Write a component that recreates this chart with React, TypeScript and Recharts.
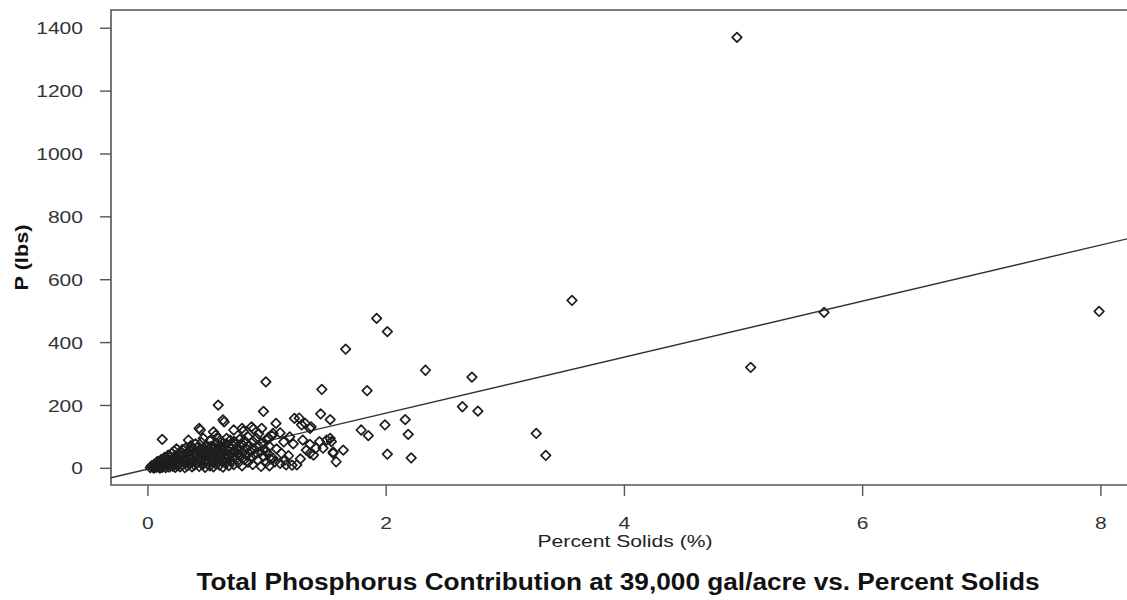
import React from 'react';
import { ScatterChart, Scatter, XAxis, YAxis, ReferenceArea, ReferenceLine, Label } from 'recharts';

// dense cloud of low-solids samples
const clusterPts: [number, number][] = [
  [0.02, 2], [0.03, 8], [0.04, 4], [0.05, 12], [0.05, 1], [0.06, 6], [0.07, 15], [0.07, 3],
  [0.08, 10], [0.08, 22], [0.09, 5], [0.10, 18], [0.10, 1], [0.11, 9], [0.11, 28], [0.12, 14],
  [0.12, 3], [0.13, 24], [0.13, 7], [0.14, 35], [0.14, 12], [0.15, 19], [0.15, 2], [0.16, 30],
  [0.16, 8], [0.17, 42], [0.17, 15], [0.18, 25], [0.18, 4], [0.19, 36], [0.19, 11], [0.20, 48],
  [0.20, 20], [0.21, 6], [0.21, 31], [0.22, 14], [0.22, 55], [0.23, 40], [0.23, 3], [0.24, 22],
  [0.24, 62], [0.25, 9], [0.25, 33], [0.26, 46], [0.26, 17], [0.27, 5], [0.27, 28], [0.28, 52],
  [0.28, 38], [0.29, 12], [0.29, 60], [0.30, 24], [0.30, 44], [0.31, 2], [0.31, 34], [0.32, 18],
  [0.32, 66], [0.33, 50], [0.33, 8], [0.34, 27], [0.34, 40], [0.35, 58], [0.35, 14], [0.36, 72],
  [0.36, 31], [0.37, 5], [0.37, 45], [0.38, 22], [0.38, 63], [0.39, 36], [0.39, 10], [0.40, 52],
  [0.40, 78], [0.41, 28], [0.41, 16], [0.42, 44], [0.42, 68], [0.43, 6], [0.43, 35], [0.44, 58],
  [0.44, 20], [0.45, 82], [0.45, 48], [0.46, 12], [0.46, 30], [0.47, 64], [0.47, 40], [0.48, 3],
  [0.48, 54], [0.49, 24], [0.49, 74], [0.50, 38], [0.50, 15], [0.51, 60], [0.51, 46], [0.52, 8],
  [0.52, 88], [0.53, 30], [0.53, 70], [0.54, 20], [0.54, 52], [0.55, 42], [0.55, 5], [0.56, 66],
  [0.56, 34], [0.57, 80], [0.57, 14], [0.58, 50], [0.58, 26], [0.59, 95], [0.59, 60], [0.60, 38],
  [0.60, 10], [0.61, 72], [0.61, 46], [0.62, 22], [0.62, 85], [0.63, 56], [0.63, 4], [0.64, 34],
  [0.64, 68], [0.65, 44], [0.65, 16], [0.66, 78], [0.66, 28], [0.67, 58], [0.68, 40], [0.68, 9],
  [0.69, 90], [0.69, 64], [0.70, 24], [0.70, 50], [0.71, 74], [0.72, 36], [0.72, 12], [0.73, 84],
  [0.73, 56], [0.74, 30], [0.75, 66], [0.75, 45], [0.76, 18], [0.77, 92], [0.77, 60], [0.78, 38],
  [0.79, 76], [0.79, 8], [0.80, 50], [0.81, 28], [0.81, 88], [0.82, 64], [0.83, 42], [0.84, 100],
  [0.84, 20], [0.85, 72], [0.86, 54], [0.87, 34], [0.88, 86], [0.88, 12], [0.89, 62], [0.90, 44],
  [0.91, 96], [0.92, 26], [0.93, 70], [0.94, 52], [0.95, 6], [0.96, 80], [0.97, 38], [0.98, 60],
  [0.99, 18], [1.00, 90], [1.01, 46], [1.02, 70], [1.03, 30], [1.04, 104],
];

// scattered samples between 0 and ~2.8 % solids
const spreadPts: [number, number][] = [
  [0.12, 92], [0.34, 90], [0.44, 122], [0.43, 127], [0.465, 95], [0.55, 116], [0.57, 106],
  [0.59, 201], [0.63, 154], [0.64, 148], [0.66, 95], [0.72, 122], [0.72, 85], [0.79, 127],
  [0.80, 118], [0.87, 132], [0.885, 125], [0.955, 127], [0.97, 181], [0.99, 275], [1.05, 111],
  [1.075, 143], [1.11, 113], [1.23, 159], [1.27, 160], [1.29, 138], [1.32, 143], [1.36, 127],
  [1.37, 132], [1.45, 173], [1.46, 251], [1.53, 155],
  [1.22, 78], [1.36, 76], [1.44, 85], [1.50, 90], [1.53, 95], [1.54, 85], [1.36, 48], [1.41, 64],
  [1.47, 64], [1.555, 48], [1.58, 21], [1.065, 21], [1.15, 26], [1.21, 10], [1.12, 48], [1.16, 11],
  [1.25, 11], [1.11, 16], [1.05, 32], [0.99, 53], [1.33, 58], [1.39, 42], [1.64, 58], [1.555, 52],
  [1.08, 62], [1.18, 40], [1.28, 30], [1.02, 8], [1.30, 90], [1.19, 100], [0.93, 110], [1.01, 98],
  [1.14, 84],
  [1.66, 379], [1.79, 122], [1.85, 104], [1.84, 247], [1.92, 477], [2.01, 435], [1.99, 138],
  [2.01, 45], [2.16, 155], [2.185, 108], [2.21, 33], [2.33, 312], [2.64, 196], [2.72, 290],
  [2.77, 182],
];

// high-solids samples
const outlierPts: [number, number][] = [
  [3.26, 111], [3.34, 41], [3.56, 534], [4.945, 1371], [5.06, 321], [5.676, 496], [7.985, 499],
];

// least-squares fit, drawn across the full plot region
const fitStart = { x: -0.31, y: -30 };
const fitEnd = { x: 8.32, y: 739 };

const xDomain: [number, number] = [-0.31, 8.32];
const yDomain: [number, number] = [-53, 1458];
const xTicks = [0, 2, 4, 6, 8];
const yTicks = [0, 200, 400, 600, 800, 1000, 1200, 1400];

const points = [...clusterPts, ...spreadPts, ...outlierPts].map(([x, y]) => ({ x, y }));

const FONT = '"Liberation Sans", Arial, sans-serif';

const Diamond = (props: any) => {
  const { cx, cy } = props;
  const r = 4.8;
  return (
    <path
      d={`M${cx},${cy - r}L${cx + r},${cy}L${cx},${cy + r}L${cx - r},${cy}Z`}
      fill="none"
      stroke="#1e1e1e"
      strokeWidth={1.7}
      strokeLinejoin="round"
    />
  );
};

const YTick = (props: any) => {
  const { x, y, payload } = props;
  const s = String(payload.value);
  return (
    <text x={x} y={y} dy="0.36em" textAnchor="end" fontSize={17} fontFamily={FONT} fill="#333"
      textLength={s.length * 11.7} lengthAdjust="spacingAndGlyphs">
      {s}
    </text>
  );
};

const XTick = (props: any) => {
  const { x, y, payload } = props;
  const s = String(payload.value);
  return (
    <text x={x} y={y} dy="0.71em" textAnchor="middle" fontSize={17} fontFamily={FONT} fill="#333"
      textLength={s.length * 11.7} lengthAdjust="spacingAndGlyphs">
      {s}
    </text>
  );
};

const XLabel = (props: any) => {
  const { x, y, width } = props.viewBox;
  return (
    <text x={x + width / 2} y={y + 62} textAnchor="middle" fontSize={17} fontFamily={FONT} fill="#222"
      textLength={175} lengthAdjust="spacingAndGlyphs">
      Percent Solids (%)
    </text>
  );
};

const YLabel = (props: any) => {
  const { y, height } = props.viewBox;
  const cx = 22;
  const cy = y + height / 2 + 10;
  return (
    <text x={cx} y={cy} transform={`rotate(-90 ${cx} ${cy})`} dy="0.36em" textAnchor="middle"
      fontSize={18} fontWeight="bold" fontFamily={FONT} fill="#111"
      textLength={66} lengthAdjust="spacingAndGlyphs">
      P (lbs)
    </text>
  );
};

export default function App() {
  return (
    <div style={{ position: 'absolute', left: 0, top: 0, width: 1127, height: 600, overflow: 'hidden', background: '#fff' }}>
      <ScatterChart width={1145} height={600} margin={{ top: 10, right: 6, bottom: 0, left: 0 }}>
        <XAxis
          type="number"
          dataKey="x"
          domain={xDomain}
          ticks={xTicks}
          allowDataOverflow
          height={115}
          axisLine={false}
          tickSize={11}
          tickMargin={21}
          tickLine={{ stroke: '#555', strokeWidth: 1.4 }}
          tick={<XTick />}
        >
          <Label content={<XLabel />} />
        </XAxis>
        <YAxis
          type="number"
          dataKey="y"
          domain={yDomain}
          ticks={yTicks}
          allowDataOverflow
          width={111}
          axisLine={false}
          tickSize={11}
          tickMargin={17}
          tickLine={{ stroke: '#555', strokeWidth: 1.4 }}
          tick={<YTick />}
        >
          <Label content={<YLabel />} />
        </YAxis>
        <ReferenceArea
          x1={xDomain[0]}
          x2={xDomain[1]}
          y1={yDomain[0]}
          y2={yDomain[1]}
          fill="none"
          stroke="#555"
          strokeWidth={1.6}
          ifOverflow="visible"
        />
        <ReferenceLine
          segment={[fitStart, fitEnd]}
          stroke="#333"
          strokeWidth={1.4}
          ifOverflow="visible"
        />
        <Scatter data={points} shape={<Diamond />} isAnimationActive={false} />
      </ScatterChart>
      <svg width={1127} height={600} style={{ position: 'absolute', left: 0, top: 0, pointerEvents: 'none' }}>
        <text x={618} y={590} textAnchor="middle" fontSize={23} fontWeight="bold" fontFamily={FONT} fill="#111"
          textLength={843} lengthAdjust="spacingAndGlyphs">
          Total Phosphorus Contribution at 39,000 gal/acre vs. Percent Solids
        </text>
      </svg>
    </div>
  );
}
